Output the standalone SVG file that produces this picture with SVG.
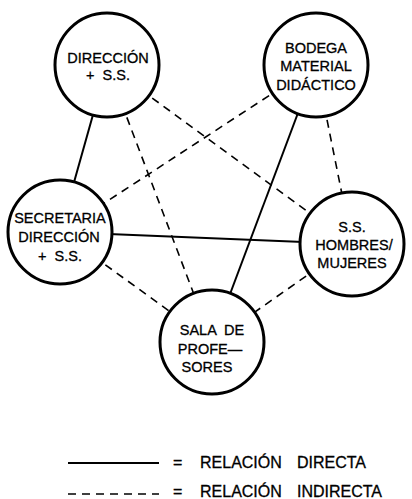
<svg xmlns="http://www.w3.org/2000/svg" width="412" height="499" viewBox="0 0 412 499">
<style>
.node circle{fill:#fff;stroke:#000;stroke-width:3}
text{font-family:"Liberation Sans",Arial,sans-serif;font-size:14.5px;fill:#000;stroke:#000;stroke-width:0.3;text-anchor:middle;white-space:pre}
.lg{text-anchor:start;font-size:16px}
.s{stroke:#000;stroke-width:2;fill:none}
.d{stroke:#000;stroke-width:1.6;fill:none;stroke-dasharray:8 6}
</style>
<rect width="412" height="499" fill="#fff"/>
<g id="connectors">
<line class="s" x1="107" y1="65" x2="60" y2="232"/>
<line class="d" x1="107" y1="65" x2="212" y2="342"/>
<line class="d" x1="107" y1="65" x2="352" y2="244"/>
<line class="d" x1="316" y1="65" x2="60" y2="232"/>
<line class="s" x1="316" y1="65" x2="212" y2="342"/>
<line class="d" x1="316" y1="65" x2="352" y2="244"/>
<line class="s" x1="60" y1="232" x2="352" y2="244"/>
<line class="d" x1="60" y1="232" x2="212" y2="342"/>
<line class="d" x1="352" y1="244" x2="212" y2="342"/>
</g>
<g id="direccion" class="node"><circle cx="107" cy="65" r="52"/><text x="108" y="63">DIRECCIÓN</text><text x="108" y="80" xml:space="preserve">+  S.S.</text></g>
<g id="bodega" class="node"><circle cx="316" cy="65" r="52"/><text x="316" y="53">BODEGA</text><text x="316" y="71">MATERIAL</text><text x="316" y="90">DIDÁCTICO</text></g>
<g id="secretaria" class="node"><circle cx="60" cy="232" r="52"/><text x="60" y="223">SECRETARIA</text><text x="59" y="242">DIRECCIÓN</text><text x="60" y="261" xml:space="preserve">+  S.S.</text></g>
<g id="hombres" class="node"><circle cx="352" cy="244" r="52"/><text x="352" y="232">S.S.</text><text x="354" y="250">HOMBRES/</text><text x="352" y="268">MUJERES</text></g>
<g id="sala" class="node"><circle cx="212" cy="342" r="52"/><text x="212" y="335" xml:space="preserve">SALA  DE</text><text x="210" y="354">PROFE—</text><text x="207" y="372">SORES</text></g>
<g id="legend">
<line class="s" x1="68" y1="463" x2="159" y2="463"/>
<line class="d" x1="68" y1="494" x2="159" y2="494" stroke-dasharray="8 3.4"/>
<text class="lg" x="173" y="468">=</text><text class="lg" x="200" y="468">RELACIÓN</text><text class="lg" x="297" y="468">DIRECTA</text>
<text class="lg" x="173" y="497">=</text><text class="lg" x="200" y="497">RELACIÓN</text><text class="lg" x="297" y="497">INDIRECTA</text>
</g>
</svg>
